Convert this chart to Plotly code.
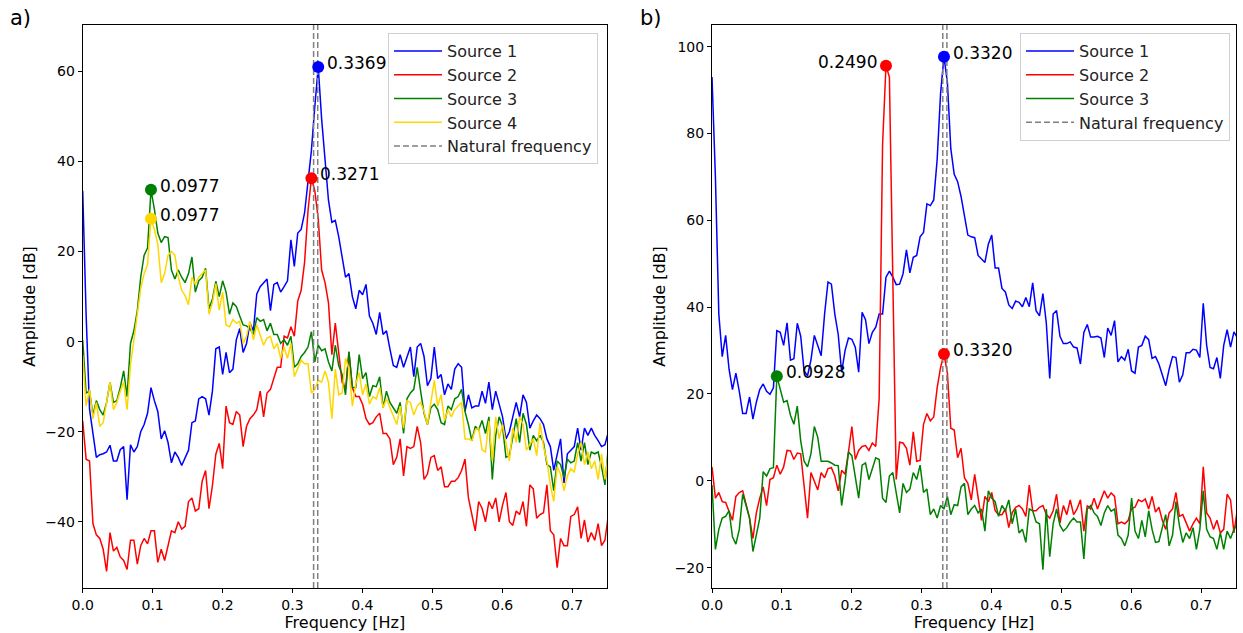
import plotly.graph_objects as go

# ---------------- data ----------------
DF = 1 / 204.8  # frequency resolution [Hz]

# Panel a)
a_source1 = [33.5, 6, -15, -21, -25.7, -25.1, -24.9, -24.5, -23, -26.5,
             -26.5, -24, -23.3, -35.1, -22.9, -24.5, -23.3, -20, -18.4, -15.9,
             -10.2, -13.1, -15.5, -21.6, -19.8, -22.4, -26.9, -24.5, -25.7, -27.5,
             -25.9, -24.1, -18, -17.6, -12.7, -12.2, -12.7, -16.3, -11, -1.6,
             -1.2, -7.3, -2.4, -6.9, -6.1, 0.4, 2.9, -2.4, -0.4, 4.1,
             2.4, 10.6, 12.2, 13.1, 13.9, 6.9, 12.7, 13.1, 11, 12.2,
             13.5, 22.6, 16.7, 24.1, 24.9, 28.6, 35.5, 42.4, 52.2, 61,
             49.4, 40.4, 31.4, 26.5, 26.9, 23.3, 19.2, 14.3, 15.1, 10,
             7.3, 11.4, 10.4, 12.7, 5.7, 4.1, 1.6, 6.5, 1.6, 2.4,
             -1.6, -5.3, -5.7, -2.9, -5.7, -3.3, -1.2, -7.8, -1.2, -0.4,
             -3.3, -9.8, -8.2, -1.2, -8.2, -7.3, -11.8, -9.4, -10.6, -6.1,
             -4.9, -5.7, -15.5, -11.8, -14.7, -14.3, -14.3, -11, -13.7, -9,
             -15.1, -11, -13.9, -16.7, -21.6, -20, -16.7, -13.5, -16.7, -11.8,
             -13.5, -19.2, -17.6, -16.3, -17.1, -18.4, -21.6, -23.3, -28.6, -24.9,
             -21.6, -31.4, -24.9, -24.1, -23.3, -19.2, -24.1, -19.2, -20.8, -19.2,
             -20.8, -22, -23.3, -22.9, -20]
a_source2 = [-17.6, -26.1, -26.5, -40.4, -42.9, -43.7, -46.1, -51, -42.4, -46.5,
             -45.7, -47.8, -48.6, -50.6, -44.1, -44.1, -49.4, -45.3, -43.7, -44.9,
             -42, -42, -49, -46.1, -48.6, -44.9, -42, -42.4, -40, -41.6,
             -41, -35.5, -34.7, -37.6, -37.1, -31, -28.6, -37.1, -32, -25,
             -22.6, -28.2, -14.3, -18, -18.4, -15.5, -16.3, -23.3, -18.8, -17.1,
             -16.3, -15.1, -11, -16.7, -11.4, -10.6, -8.2, -5.7, -5.7, 1.2,
             0.8, 3.3, 1.2, 9, 11.4, 17.6, 29, 36.3, 33.5, 27.3,
             15.9, 13.1, 8.6, -2.9, 4.1, -2, -9, -10.6, -2.4, -10.2,
             -12.2, -12.2, -13.9, -17.1, -18.4, -18, -16.7, -15.9, -20.4, -20.4,
             -21.6, -27.3, -25.7, -21.6, -29.8, -23.3, -23.7, -23.3, -18.8, -22.4,
             -30.6, -29.4, -25.7, -25.3, -28.6, -27.8, -32.2, -32.2, -31, -31,
             -30.2, -28.6, -26.1, -34.7, -38, -42, -35.5, -37, -40, -35.5,
             -37.1, -34.7, -40, -36.3, -33.5, -40, -40.8, -37.6, -38.4, -35.5,
             -41, -31.8, -32.7, -39.2, -38.4, -38, -31.8, -42, -42.9, -50.2,
             -43.7, -45.3, -45.3, -38.8, -38.4, -36.7, -43.7, -39.6, -44.5, -42.4,
             -44.1, -40.4, -45.3, -44.1, -38.4]
a_source3 = [0.4, -11.4, -11, -16.3, -13.1, -15.1, -16.3, -13.5, -9, -13.5,
             -13.1, -10.2, -6.5, -12.2, -0.4, 2.4, 6.9, 14.3, 19.2, 20.8,
             33.7, 29.4, 24.1, 22, 23.3, 23.1, 15.9, 13.9, 15.9, 14.3,
             13.1, 15.1, 18.8, 11, 13.5, 14.3, 16.3, 7.3, 9.4, 13.4,
             10, 13.5, 11, 6.1, 8.6, 7.8, 5.7, 3.7, 3.5, 2.9,
             1.6, 5.3, 4.5, 4.9, 2.4, 4.1, 1.6, 1.6, -0.4, 0.4,
             -0.8, 1.2, -5.7, -4.9, -3.3, -2.4, -1.2, 2.2, -4.5, -0.8,
             -2, -1.6, -4.5, -6.5, -0.8, -5.3, -7.3, -11.8, -2.2, -10.2,
             -10.2, -2.9, -8.2, -6.9, -12.2, -9.8, -10, -7.8, -14.7, -11,
             -13.5, -14.7, -15.9, -13.5, -20.4, -12.7, -11.4, -10.6, -5.7, -11,
             -15.9, -18.4, -14.7, -13.9, -15.1, -18, -18.4, -14.3, -15.1, -12.7,
             -12.2, -10.6, -15.5, -18.4, -22, -18.8, -19.6, -17.5, -20.4, -16.7,
             -30.6, -20.8, -16.7, -18.8, -25.7, -25.3, -21.6, -17.1, -22.4, -15.9,
             -18.4, -24.1, -20.8, -22, -20.8, -22.4, -27.3, -27.8, -33.1, -26.5,
             -27.3, -30.2, -26.1, -26.9, -26.5, -22.4, -26.5, -22.4, -27.3, -24.5,
             -24.9, -24.5, -27.8, -31.8, -23.3]
a_source4 = [-3, -14.3, -10.6, -17.1, -13.5, -18.8, -18, -13.5, -9, -15.1,
             -13.5, -11, -9, -15.1, -5.3, 0.4, 6.1, 11.8, 15.1, 17.1,
             27.3, 24.9, 21.6, 13.1, 15.1, 19.2, 20, 19.2, 14.3, 11.4,
             10.2, 8.2, 14.3, 12.7, 14.3, 15.1, 15.9, 6.1, 8.6, 12.9,
             7, 11, 3.7, 3.3, 4.9, 4.1, 4.5, -0.4, 1.2, 4.5,
             0.4, 3.7, 1.6, -0.8, 0.8, 1.2, -1.6, -0.4, -3.7, -1.2,
             -3.7, -0.4, -7.8, -6.1, -4.1, -4.9, -4.9, -11.4, -10.6, -8.6,
             -9, -6.5, -9, -17.1, -6.1, -11.8, -11.4, -3.7, -6, -14.3,
             -9.4, -6.9, -11.8, -9.4, -13.9, -12.2, -12.7, -10.2, -14.7, -12.7,
             -14.7, -16.7, -18.4, -14.3, -19.2, -13.1, -13.5, -16.3, -14.3, -13.5,
             -15.5, -18.4, -13.5, -8.6, -14.3, -11.8, -17.6, -15.1, -16.7, -15.1,
             -14.3, -13.5, -21.6, -21.6, -22, -19.6, -19.2, -24, -24.5, -17.6,
             -26.5, -16.7, -21.6, -18.4, -22.4, -26.5, -19.2, -22.4, -16.7, -18.4,
             -24.1, -22.9, -21.6, -25.3, -18, -23.3, -26.5, -31.8, -35.5, -27.8,
             -29.4, -33.1, -29.8, -28.2, -29, -24.9, -22.4, -27.3, -24.5, -28.2,
             -26.5, -30.6, -24.9, -30.6, -24.9]

# Panel b)
b_source1 = [93, 70, 38.4, 28.6, 33.5, 25.7, 21, 24.8, 20.6, 15.5,
             15.5, 19.3, 14.2, 18.1, 21, 22.3, 20.6, 19.9, 21.4, 34.6,
             34.2, 31.2, 36.4, 27.8, 28.1, 36.3, 33.3, 25.3, 24.2, 27.8,
             33.5, 31.2, 28.8, 38.4, 45.8, 45.3, 38.4, 33.7, 25, 30,
             32.9, 32.6, 30.8, 25, 38.8, 37.1, 31.6, 34.2, 35.4, 38.4,
             38.4, 46.9, 48.3, 46.9, 45.2, 45.3, 47.7, 53.2, 47.9, 51.5,
             51.9, 56.2, 57.2, 63.8, 63.4, 64.7, 74, 89.2, 97.7, 91.8,
             76.5, 70.6, 68.9, 65.5, 61.3, 56.6, 56.2, 56, 51.9, 51.1,
             50.3, 54.5, 56.6, 49, 49, 44.3, 43.5, 40.5, 39.7, 41.4,
             41.1, 40.1, 42.2, 40.1, 45.6, 39.2, 38, 43.1, 36.3, 23.6,
             38.4, 39.2, 33.3, 31.6, 31.6, 32, 30.8, 30.6, 26.9, 34.2,
             36, 33.1, 33.1, 33.3, 32.9, 28.4, 35.2, 33.5, 36.9, 27.4,
             28.6, 27.8, 30.3, 25.3, 24.8, 30.8, 31.2, 33.3, 32.5, 28.2,
             28.6, 26.9, 24.4, 21.9, 25.7, 28.6, 28.4, 22.7, 24.4, 29.5,
             29.5, 30.3, 30.1, 28.4, 40.9, 31.2, 26.1, 25.8, 28.4, 23.6,
             31.2, 34.8, 30.8, 34.3, 32.9]
b_source2 = [3.2, -4, -2.7, -4.8, -5, -6.9, -9.1, -3.6, -2.7, -2.3,
             -5.3, -8.6, -13.3, -7.4, -4, -1.4, -5.7, 0.3, 0.7, 3.6,
             1.5, 3.2, 7, 6.9, 4.9, 6.4, 6.2, -0.6, -8.6, 1.9,
             -0.2, -2.1, 1.9, 0.7, 2.8, 3, 1.1, -2.3, 2.4, 1.5,
             6.6, 12.5, 4.9, 7, 7.9, 8.1, 7, 8.7, 7.9, 18.9,
             77.4, 95.6, 93, 50, 0.3, 8.9, 8.7, 7.5, 3.6, 11.3,
             4.5, 4.7, 13, 15.5, 13.8, 14.7, 21.4, 26.1, 29.2, 24.8,
             12.1, 11.7, 5.3, 7.5, 0.7, -0.6, -4.4, 1.5, -3.8, -9.1,
             -3.6, -4.8, -2.7, -6.9, -7.8, -7.8, -6.5, -10.8, -7.4, -6.1,
             -5.7, -6.5, -8.2, -1, -6.9, -6.9, -6.1, -5.7, -7.8, -8.6,
             -6.9, -3.1, -9.7, -5.7, -7.8, -4.4, -7.8, -6.5, -4.4, -11.6,
             -5.7, -6.5, -4, -6.5, -4.4, -2.3, -4, -2.8, -3.6, -9.9,
             -9.5, -9.9, -9.1, -6.4, -6.1, -4.4, -4.8, -4.2, -6.5, -3.6,
             -7.2, -6.1, -9.1, -11.2, -7.4, -6.5, -2.7, -8.2, -7.8, -9.5,
             -11.6, -9.9, -8.6, -9.9, 3.2, -7.4, -8.6, -11.2, -9.1, -12,
             -11.2, -3.1, -4.4, -12, -6.5]
b_source3 = [-1, -15.8, -11.2, -8.6, -8.2, -6.9, -12.9, -14.6, -11.2, -3.1,
             -5.7, -8.6, -16.3, -12.5, -8.6, 2.1, 1.1, 2.8, 3, 24.1,
             21.4, 18.1, 18.5, 15.1, 13, 17.2, 9.2, 4.5, 3.2, 6.2,
             12.5, 10, 4.5, 4.5, 4.5, 4.1, 3.6, 3.5, -5.7, -0.2,
             6.6, 5.8, 0.7, -4, 3.6, 4.1, 0.3, 2.8, 5.3, 4.9,
             -4, -5, 1.1, 1.9, -3.1, -7.4, -0.6, -2.7, -1.9, 1.9,
             0.3, 3.6, -2.7, -1.9, -7.8, -6.5, -8.6, -5.7, -6.5, -3.6,
             -7.8, -5.5, -5.7, -1.4, -0.6, -7.8, -6.5, -5.7, -7.4, -6.5,
             -11.6, -2.3, -4, -4.8, -8.2, -5.7, -6.9, -4.4, -9.9, -6.5,
             -12, -11.2, -14.2, -6.5, -6.9, -9.5, -9.9, -20.5, -6.5, -17.5,
             -9.9, -6.5, -10.3, -11.6, -10.8, -9.5, -8.6, -9.5, -9.5, -18,
             -6.5, -5.7, -7.4, -8.2, -10.3, -7.4, -5.7, -7, -6.5, -12.5,
             -13.3, -15, -12.5, -4, -11.6, -13.3, -9.1, -12.9, -6.9, -11.2,
             -14.2, -14, -10.8, -7.8, -15, -12.5, -4.8, -10.3, -14.2, -12,
             -13.3, -10.8, -15.8, -11.2, -2.3, -11.2, -12.9, -13.3, -15.8, -12,
             -15.8, -11.6, -13.3, -11.2, -9.9]

a_names = ["Source 1", "Source 2", "Source 3", "Source 4"]
b_names = ["Source 1", "Source 2", "Source 3"]
colors = ["#0000FF", "#FF0000", "#008000", "#FFD700"]

# peak indices (bins) per source
a_peaks = [69, 67, 20, 20]
b_peaks = [68, [51, 68], 19]

natural_freqs = [0.3303, 0.3362]
a_yrange = [-54.7, 70.3]
b_yrange = [-24.7, 105.0]
x_range = [0, 0.75]
x_ticks = [0.0, 0.1, 0.2, 0.3, 0.4, 0.5, 0.6, 0.7]
a_yticks = [-40, -20, 0, 20, 40, 60]
b_yticks = [-20, 0, 20, 40, 60, 80, 100]

# ---------------- figure ----------------
W, H = 1243, 633
FONT = "DejaVu Sans"
fig = go.Figure()


def freqs(n):
    return [i * DF for i in range(n)]


def add_panel(series, names, peaks, xa, ya, legend, yrange, label_left=()):
    for s, name, col in zip(series, names, colors):
        fig.add_trace(go.Scatter(x=freqs(len(s)), y=s, mode="lines", name=name,
                                 line=dict(color=col, width=1.5),
                                 xaxis=xa, yaxis=ya, legend=legend))
    xs, ys = [], []
    for f in natural_freqs:
        xs += [f, f, None]
        ys += [yrange[0], yrange[1], None]
    fig.add_trace(go.Scatter(x=xs, y=ys, mode="lines", name="Natural frequency",
                             line=dict(color="#808080", width=1.5, dash="6px,3px"),
                             xaxis=xa, yaxis=ya, legend=legend))
    for s, pk, col in zip(series, peaks, colors):
        pks = pk if isinstance(pk, list) else [pk]
        for p in pks:
            f = p * DF
            fig.add_trace(go.Scatter(x=[f], y=[s[p]], mode="markers",
                                     marker=dict(color=col, size=12),
                                     showlegend=False, xaxis=xa, yaxis=ya,
                                     hoverinfo="skip"))
            left = (col, p) in label_left
            fig.add_annotation(x=f, y=s[p], xref=xa, yref=ya, text=f"{f:.4f}",
                               showarrow=False, xanchor="right" if left else "left",
                               yanchor="middle", xshift=-7 if left else 7, yshift=4,
                               font=dict(family=FONT, size=17, color="black"))


add_panel([a_source1, a_source2, a_source3, a_source4], a_names, a_peaks,
          "x", "y", "legend", a_yrange)
add_panel([b_source1, b_source2, b_source3], b_names, b_peaks,
          "x2", "y2", "legend2", b_yrange, label_left=(("#FF0000", 51),))

axis_common = dict(showline=True, linecolor="black", linewidth=1, mirror=True,
                   ticks="outside", ticklen=4, tickwidth=1, tickcolor="black",
                   showgrid=False, zeroline=False, automargin=False,
                   tickfont=dict(family=FONT, size=14, color="black"))
ytop = 1 - 25 / H
ybot = 1 - 588 / H
fig.update_layout(
    width=W, height=H, margin=dict(l=0, r=0, t=0, b=0, autoexpand=False),
    paper_bgcolor="white", plot_bgcolor="white",
    font=dict(family=FONT, color="black"),
    xaxis=dict(domain=[82.7 / W, 607 / W], range=x_range, tickvals=x_ticks,
               tickformat=".1f", anchor="y",
               title=dict(text="Frequency [Hz]", font=dict(size=16), standoff=2),
               **axis_common),
    yaxis=dict(domain=[ybot, ytop], range=a_yrange, tickvals=a_yticks, anchor="x",
               title=dict(text="Amplitude [dB]", font=dict(size=16), standoff=5),
               **axis_common),
    xaxis2=dict(domain=[712 / W, 1236 / W], range=x_range, tickvals=x_ticks,
                tickformat=".1f", anchor="y2",
                title=dict(text="Frequency [Hz]", font=dict(size=16), standoff=2),
                **axis_common),
    yaxis2=dict(domain=[ybot, ytop], range=b_yrange, tickvals=b_yticks, anchor="x2",
                title=dict(text="Amplitude [dB]", font=dict(size=16), standoff=5),
                **axis_common),
    legend=dict(x=598 / W, y=1 - 33 / H, xanchor="right", yanchor="top",
                bgcolor="rgba(255,255,255,0.8)", bordercolor="#d0d0d0", borderwidth=1,
                font=dict(family=FONT, size=16, color="#222"), tracegroupgap=0,
                itemwidth=48),
    legend2=dict(x=1230 / W, y=1 - 33 / H, xanchor="right", yanchor="top",
                 bgcolor="rgba(255,255,255,0.8)", bordercolor="#d0d0d0", borderwidth=1,
                 font=dict(family=FONT, size=16, color="#222"), tracegroupgap=0,
                 itemwidth=48),
    showlegend=True,
)
fig.add_annotation(x=8 / W, y=1 - 18 / H, xref="paper", yref="paper", text="a)",
                   showarrow=False, xanchor="left", yanchor="middle",
                   font=dict(family=FONT, size=21, color="black"))
fig.add_annotation(x=638 / W, y=1 - 18 / H, xref="paper", yref="paper", text="b)",
                   showarrow=False, xanchor="left", yanchor="middle",
                   font=dict(family=FONT, size=21, color="black"))

fig.write_html("out.html", config={"displayModeBar": False},
               post_script="document.body.style.margin='0';")
